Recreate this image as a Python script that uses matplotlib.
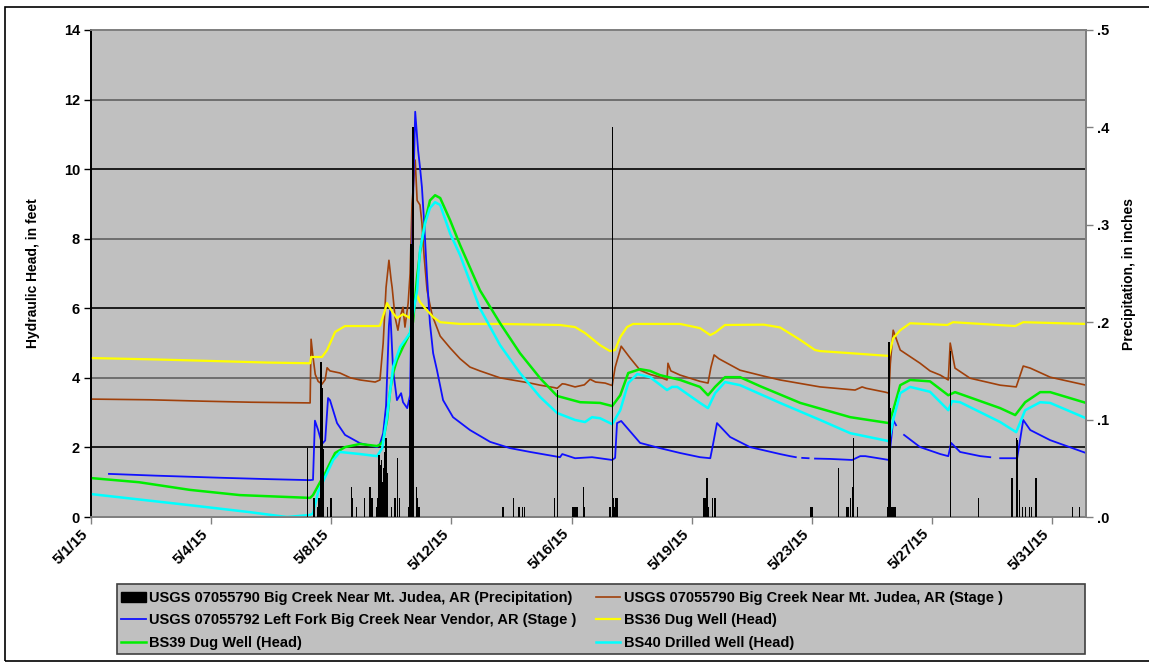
import datetime as dt
import matplotlib
matplotlib.use("Agg")
import matplotlib.pyplot as plt
import matplotlib.dates as mdates
from matplotlib.patches import Rectangle, Patch
from matplotlib.ticker import FuncFormatter
import numpy as np

plt.rcParams['font.family'] = ['Liberation Sans', 'DejaVu Sans']
plt.rcParams['font.weight'] = 'bold'

START = dt.datetime(2015, 5, 1)
nan = np.nan

# days after 5/1/15 00:00 and values
big_creek_t = [0, 1.84, 3.5, 5.0, 6.84, 6.87, 6.93, 7.0, 7.09, 7.21, 7.31, 7.37, 7.46, 7.77, 8.1, 8.4,
               8.87, 9.02, 9.12, 9.21, 9.3, 9.37, 9.4, 9.49, 9.58, 9.65, 9.74, 9.8, 9.9, 9.96, 10.02,
               10.12, 10.18, 10.27, 10.33, 10.4, 10.49, 10.58, 10.65, 10.9, 11.21, 11.52, 11.83, 12.14,
               12.77, 13.71, 14.02, 14.46, 14.55, 14.71, 14.8, 15.11, 15.4, 15.58, 15.75, 16.05, 16.27,
               16.36, 16.55, 16.83, 17.14, 17.45, 17.76, 17.98, 18.01, 18.1, 18.39, 19.01, 19.26, 19.35,
               19.45, 19.6, 20.26, 21.0, 21.51, 22.76, 23.85, 24.07, 24.2, 24.79, 24.91, 24.95, 25.04,
               25.26, 25.88, 26.19, 26.51, 26.76, 26.82, 26.97, 27.44, 28.38, 28.88, 29.1, 29.32, 29.94, 31.06]
big_creek_stage = [3.39, 3.37, 3.33, 3.3, 3.28, 5.11, 4.6, 4.1, 3.9, 3.82, 3.95, 4.29, 4.2, 4.14, 4.0, 3.94,
                   3.88, 3.94, 5.0, 6.6, 7.38, 6.8, 6.6, 5.75, 5.37, 5.75, 6.03, 5.46, 6.15, 7.0, 9.0,
                   10.26, 9.1, 8.97, 8.45, 7.47, 6.52, 6.1, 5.8, 5.2, 4.86, 4.55, 4.31, 4.2,
                   4.0, 3.85, 3.79, 3.72, 3.7, 3.83, 3.82, 3.74, 3.8, 3.96, 3.88, 3.85, 3.78,
                   4.3, 4.91, 4.57, 4.22, 4.1, 4.02, 3.94, 4.42, 4.2, 4.08, 3.9, 3.85, 4.3,
                   4.66, 4.55, 4.22, 4.05, 3.94, 3.74, 3.65, 3.74, 3.7, 3.59, 3.56, 4.4, 5.37,
                   4.8, 4.42, 4.2, 4.08, 3.94, 5.0, 4.28, 3.99, 3.79, 3.74, 4.34, 4.28, 4.02, 3.79]

left_fork_t = [0.56, 2.0, 4.0, 5.5, 6.84, 6.93, 6.99, 7.09, 7.21, 7.31, 7.4, 7.46, 7.68, 7.93, 8.4, 8.93,
               9.02, 9.12, 9.21, 9.3, 9.34, 9.43, 9.55, 9.68, 9.74, 9.87, 9.96, 10.05, 10.12, 10.21, 10.27,
               10.33, 10.4, 10.49, 10.58, 10.68, 10.8, 10.99, 11.3, 11.83, 12.46, 13.08, 13.71, 14.64,
               14.71, 15.11, 15.64, 16.27, 16.36, 16.42, 16.55, 17.14, 17.76, 18.39, 19.01, 19.33, 19.4,
               19.54, 19.95, 20.57, 21.51, 21.82, 22.0, 22.1, 22.2, 22.4, 22.5, 22.6, 23.07, 23.76, 24.01,
               24.17, 24.91, 25.04, 25.13, 25.2, 25.38, 25.88, 26.51, 26.76, 26.85, 27.13, 27.76, 28.07,
               28.2, 28.38, 28.91, 29.0, 29.1, 29.32, 29.94, 31.06]
left_fork_stage = [1.24, 1.19, 1.13, 1.09, 1.06, 1.07, 2.77, 2.5, 2.1, 2.2, 3.42, 3.36, 2.7, 2.36, 2.12, 2.01,
                   2.1, 2.41, 3.2, 5.5, 5.95, 4.22, 3.36, 3.56, 3.3, 3.13, 3.5, 9.0, 11.65, 10.55, 10.05,
                   9.48, 8.45, 6.9, 5.57, 4.71, 4.22, 3.36, 2.87, 2.5, 2.16, 1.98, 1.87, 1.72,
                   1.81, 1.69, 1.72, 1.64, 1.7, 2.7, 2.76, 2.13, 1.98, 1.84, 1.72, 1.69, 2.01,
                   2.7, 2.3, 2.01, 1.81, 1.75, 1.72, nan, 1.7, 1.69, nan, 1.68, 1.67, 1.64, 1.75,
                   1.75, 1.64, 2.79, 2.64, nan, 2.36, 2.01, 1.81, 1.75, 2.13, 1.87, 1.75, 1.72,
                   nan, 1.69, 1.69, 2.21, 2.79, 2.5, 2.21, 1.84]

bs36_t = [0, 2.0, 4.0, 5.5, 6.84, 6.87, 7.21, 7.37, 7.62, 7.93, 8.96, 9.02, 9.18, 9.24, 9.43, 9.55, 9.74,
          9.96, 10.05, 10.18, 10.27, 10.43, 10.68, 10.9, 11.52, 12.77, 14.64, 15.11, 15.42, 15.89, 16.2,
          16.36, 16.52, 16.73, 16.92, 18.39, 19.01, 19.33, 19.48, 19.79, 21.0, 21.51, 22.14, 22.6, 22.76,
          23.7, 24.91, 25.04, 25.26, 25.57, 26.73, 26.91, 28.85, 29.1, 31.06]
bs36_head = [4.57, 4.53, 4.48, 4.44, 4.42, 4.6, 4.6, 4.8, 5.32, 5.49, 5.49, 5.5, 5.95, 6.15, 5.86, 5.72, 5.83,
             5.72, 6.38, 6.38, 6.18, 6.0, 5.75, 5.6, 5.55, 5.55, 5.52, 5.46, 5.29, 4.94, 4.77,
             4.8, 5.17, 5.46, 5.55, 5.55, 5.43, 5.23, 5.3, 5.52, 5.53, 5.45, 5.09, 4.8, 4.77,
             4.71, 4.63, 5.14, 5.37, 5.57, 5.52, 5.6, 5.49, 5.6, 5.55]

bs39_t = [0, 1.5, 3.09, 4.65, 6.84, 6.93, 7.15, 7.31, 7.46, 7.62, 7.93, 8.4, 8.93, 9.05, 9.12, 9.24, 9.34,
          9.43, 9.55, 9.74, 9.96, 10.05, 10.18, 10.27, 10.43, 10.58, 10.74, 10.9, 11.21, 11.52, 12.14,
          12.77, 13.39, 14.02, 14.55, 15.27, 15.89, 16.27, 16.52, 16.77, 17.14, 17.45, 17.76, 18.39,
          19.01, 19.26, 19.48, 19.79, 20.26, 20.89, 22.14, 23.7, 24.91, 25.04, 25.26, 25.57, 26.19,
          26.76, 26.97, 28.38, 28.85, 29.16, 29.63, 29.94, 31.06]
bs39_head = [1.12, 1.0, 0.78, 0.63, 0.55, 0.63, 1.0, 1.26, 1.55, 1.84, 2.01, 2.1, 2.04, 2.1, 2.2, 2.79, 3.65,
             4.14, 4.51, 4.89, 5.29, 5.6, 6.9, 7.6, 8.5, 9.1, 9.25, 9.17, 8.53, 7.82, 6.52,
             5.57, 4.71, 3.99, 3.48, 3.3, 3.28, 3.19, 3.5, 4.14, 4.25, 4.2, 4.08, 3.94,
             3.74, 3.5, 3.74, 4.02, 4.02, 3.76, 3.28, 2.87, 2.7, 3.07, 3.79, 3.94, 3.9,
             3.5, 3.59, 3.13, 2.93, 3.3, 3.59, 3.59, 3.28]

bs40_t = [0, 3.09, 4.96, 6.12, 6.84, 6.93, 7.09, 7.31, 7.56, 7.77, 8.4, 8.93, 9.09, 9.24, 9.43, 9.65, 9.87,
          9.96, 10.02, 10.18, 10.27, 10.43, 10.58, 10.74, 10.9, 11.21, 11.52, 12.14, 12.77, 13.39, 14.02,
          14.55, 15.11, 15.42, 15.64, 15.89, 16.27, 16.52, 16.77, 17.05, 17.45, 17.98, 18.14, 18.3,
          19.01, 19.26, 19.48, 19.79, 20.26, 21.51, 22.76, 23.7, 24.91, 25.04, 25.26, 25.57, 26.19,
          26.76, 26.88, 27.13, 28.38, 28.88, 29.16, 29.63, 29.94, 31.06]
bs40_head = [0.66, 0.34, 0.14, 0.0, 0.06, 0.1, 0.72, 1.15, 1.64, 1.87, 1.81, 1.75, 1.98, 2.87, 4.31, 4.89, 5.17,
             5.29, 5.66, 6.52, 7.67, 8.45, 8.88, 9.05, 8.97, 8.15, 7.53, 6.0, 4.94, 4.14, 3.45,
             2.99, 2.79, 2.73, 2.87, 2.84, 2.67, 3.07, 3.85, 4.11, 4.02, 3.65, 3.74, 3.74,
             3.28, 3.13, 3.56, 3.88, 3.79, 3.28, 2.79, 2.41, 2.18, 2.79, 3.56, 3.74, 3.6,
             3.07, 3.33, 3.3, 2.73, 2.44, 3.07, 3.3, 3.28, 2.84]

precip_t = [6.77, 6.96, 7.06, 7.09, 7.12, 7.18, 7.21, 7.24, 7.37, 7.49, 8.12, 8.15, 8.3, 8.55, 8.71, 8.77,
            8.9, 8.96, 8.99, 9.02, 9.06, 9.09, 9.12, 9.15, 9.18, 9.21, 9.24, 9.37, 9.49, 9.58, 9.62,
            9.9, 9.93, 9.99, 10.02, 10.05, 10.08, 10.15, 10.18, 10.24, 12.86, 13.18, 13.36, 13.46, 13.52,
            14.46, 14.55, 15.02, 15.05, 15.08, 15.11, 15.14, 15.17, 15.36, 15.39, 16.2, 16.27, 16.3,
            16.33, 16.36, 16.42, 19.11, 19.14, 19.17, 19.23, 19.26, 19.39, 19.48, 22.45, 22.48, 22.51,
            23.32, 23.6, 23.63, 23.7, 23.76, 23.79, 23.92, 24.88, 24.91, 24.95, 24.98, 25.01, 25.04,
            25.07, 25.1, 26.82, 27.69, 28.75, 28.88, 28.91, 28.97, 29.07, 29.16, 29.29, 29.35, 29.5,
            30.63, 30.85]
precip_in = [0.071, 0.02, 0.01, 0.02, 0.02, 0.159, 0.132, 0.07, 0.01, 0.02, 0.031, 0.02, 0.01, 0.02, 0.031, 0.02,
             0.01, 0.02, 0.064, 0.053, 0.059, 0.036, 0.05, 0.067, 0.066, 0.081, 0.045, 0.01, 0.02, 0.061, 0.02,
             0.01, 0.12, 0.28, 0.12, 0.40, 0.12, 0.031, 0.02, 0.01, 0.01, 0.02, 0.01, 0.01, 0.01,
             0.02, 0.13, 0.01, 0.01, 0.01, 0.01, 0.01, 0.01, 0.031, 0.01, 0.01, 0.40, 0.02,
             0.01, 0.02, 0.02, 0.02, 0.02, 0.02, 0.04, 0.01, 0.02, 0.02, 0.01, 0.01, 0.01,
             0.05, 0.01, 0.01, 0.02, 0.031, 0.081, 0.01, 0.01, 0.18, 0.112, 0.01, 0.01, 0.01,
             0.01, 0.01, 0.17, 0.02, 0.04, 0.081, 0.079, 0.028, 0.01, 0.01, 0.01, 0.01, 0.04,
             0.01, 0.01]

head_ticks = [0, 2, 4, 6, 8, 10, 12, 14]
precip_ticks = [0, 0.1, 0.2, 0.3, 0.4, 0.5]
date_tick_days = [0, 3.75, 7.5, 11.25, 15, 18.75, 22.5, 26.25, 30]


def to_dates(days):
    return [START + dt.timedelta(days=d) for d in days]


W, H = 1149, 662
fig = plt.figure(figsize=(W / 100, H / 100), dpi=100)
fig.patches.append(Rectangle((0.0045, 0.002), 1.2, 0.9875, transform=fig.transFigure,
                             fill=False, edgecolor='black', linewidth=1.2))

ax = fig.add_axes([0.0792, 0.219, 0.8660, 0.7357])
ax.set_facecolor('#c0c0c0')

# alternating grid line shades like the original
for i, v in enumerate(head_ticks[1:-1]):
    ax.axhline(v, color='black' if i % 2 == 0 else '#606060', linewidth=1.2, zorder=1)

l_bc, = ax.plot(to_dates(big_creek_t), big_creek_stage, color='#a0400a', linewidth=1.2, zorder=3)
l_lf, = ax.plot(to_dates(left_fork_t), left_fork_stage, color='#1010ff', linewidth=1.3, zorder=3)
l_36, = ax.plot(to_dates(bs36_t), bs36_head, color='#ffff00', linewidth=1.6, zorder=3)
l_39, = ax.plot(to_dates(bs39_t), bs39_head, color='#00ee00', linewidth=1.8, zorder=3)
l_40, = ax.plot(to_dates(bs40_t), bs40_head, color='#00ffff', linewidth=1.8, zorder=3)

ax.set_ylim(0, 14)
ax.set_yticks(head_ticks)
ax.set_xlim(START, START + dt.timedelta(days=31.06))
ax.set_xticks(to_dates(date_tick_days))
ax.xaxis.set_major_formatter(FuncFormatter(
    lambda v, p: (lambda d: f"{d.month}/{d.day}/{d.year % 100}")(mdates.num2date(v))))
for lab in ax.get_xticklabels():
    lab.set_rotation(45)
    lab.set_ha('right')
ax.tick_params(axis='y', labelsize=10.5, length=5, width=1, colors='black', pad=3)
ax.tick_params(axis='x', labelsize=11, length=5, width=1, color='#808080', pad=2)
ax.set_ylabel('Hydraulic Head, in feet', fontsize=10, fontweight='bold', labelpad=17)

ax2 = ax.twinx()
ax2.bar(to_dates(precip_t), precip_in, width=0.035, color='black', linewidth=0, zorder=4)
ax2.set_ylim(0, 0.5)
ax2.set_yticks(precip_ticks)
ax2.yaxis.set_major_formatter(FuncFormatter(lambda v, p: f"{v:.1f}".lstrip('0')))
ax2.tick_params(axis='y', labelsize=10.5, length=5, width=1, color='#808080', labelcolor='black', pad=3)
ax2.set_ylabel('Precipitation, in inches', fontsize=10, fontweight='bold', labelpad=9)

for a in (ax, ax2):
    a.spines['top'].set_color('#808080')
    a.spines['right'].set_color('#808080')
    a.spines['bottom'].set_color('#808080')
    a.spines['left'].set_color('black')
    for s in a.spines.values():
        s.set_linewidth(1.3)

# legend frame drawn as its own box, legend entries placed inside it
fig.patches.append(Rectangle((117 / W, 1 - 654 / H), (1085 - 117) / W, 70 / H, transform=fig.transFigure,
                             facecolor='#c0c0c0', edgecolor='#404040', linewidth=1.2))
handles = [Patch(facecolor='black', edgecolor='black'), l_lf, l_39, l_bc, l_36, l_40]
labels = ['USGS 07055790 Big Creek Near Mt. Judea, AR (Precipitation)',
          'USGS 07055792 Left Fork Big Creek Near Vendor, AR (Stage )',
          'BS39 Dug Well (Head)',
          'USGS 07055790 Big Creek Near Mt. Judea, AR (Stage )',
          'BS36 Dug Well (Head)',
          'BS40 Drilled Well (Head)']
leg = fig.legend(handles, labels, ncol=2, loc='upper left',
                 bbox_to_anchor=(118 / W, 1 - 588 / H), bbox_transform=fig.transFigure,
                 frameon=False,
                 prop={'family': ['Liberation Sans Narrow', 'Liberation Sans'], 'weight': 'bold', 'size': 10.5},
                 handlelength=1.7, handletextpad=0.25, labelspacing=0.58, borderaxespad=0,
                 borderpad=0.2, columnspacing=1.3)

fig.savefig('out.png', dpi=100)
